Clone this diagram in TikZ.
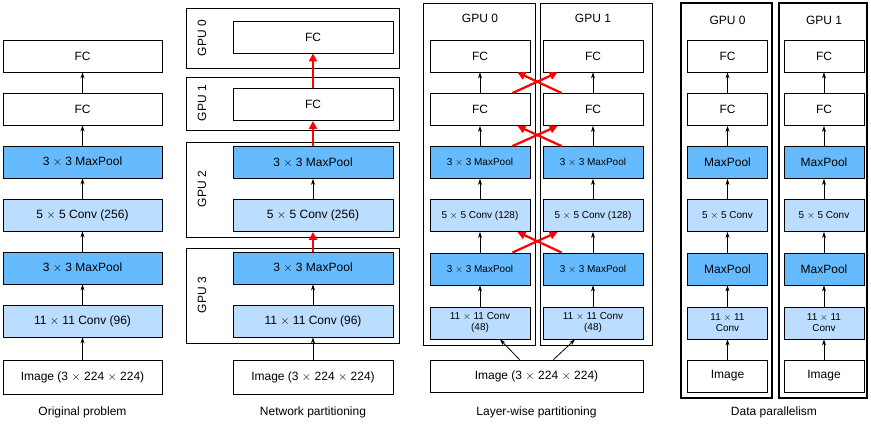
\documentclass[tikz,border=0pt]{standalone}
\usepackage{fontspec}
\setmainfont{Liberation Sans}
\usetikzlibrary{arrows.meta,calc}
\definecolor{pooldark}{HTML}{66BBFF}
\definecolor{convlight}{HTML}{BBDDFF}
\tikzset{
    layer/.style={draw,line width=0.9pt,minimum height=32pt,inner sep=1pt,align=center,font=\fontsize{12}{13}\selectfont},
    fc/.style={layer,fill=white},
    pool/.style={layer,fill=pooldark},
    conv/.style={layer,fill=convlight},
    small/.style={font=\fontsize{10}{11}\selectfont},
    frame/.style={draw,line width=0.9pt},
    up/.style={-{Stealth[length=6pt,width=4pt]},line width=0.8pt},
    redup/.style={-{Triangle[length=8pt,width=8pt]},red,line width=2.2pt},
    caption/.style={font=\fontsize{12}{13}\selectfont}
}
\begin{document}
\begin{tikzpicture}[x=1pt,y=-1pt]
    \useasboundingbox (0,0) rectangle (871,431);
    % original problem
    \begin{scope}[every node/.append style={minimum width=159pt}]
        \node[fc]   (a6) at (82.5,56)  {FC};
        \node[fc]   (a5) at (82.5,109) {FC};
        \node[pool] (a4) at (82.5,162) {3 $\times$ 3 MaxPool};
        \node[conv] (a3) at (82.5,215) {5 $\times$ 5 Conv (256)};
        \node[pool] (a2) at (82.5,268) {3 $\times$ 3 MaxPool};
        \node[conv] (a1) at (82.5,321) {11 $\times$ 11 Conv (96)};
        \node[fc,minimum height=34pt] (a0) at (82.5,377) {Image (3 $\times$ 224 $\times$ 224)};
    \end{scope}
    \foreach \i [count=\j from 1] in {0,...,5}
        \draw[up] (a\i) -- (a\j);
    \node[caption] (ca) at (82.5,412) {Original problem};

    % network partitioning
    \draw[frame] (186,8) rectangle (399,68);
    \draw[frame] (186,77) rectangle (399,130);
    \draw[frame] (186,142) rectangle (399,237);
    \draw[frame] (186,248) rectangle (399,343);
    \node[caption,rotate=90] (g0) at (202,38)  {GPU 0};
    \node[caption,rotate=90] (g1) at (202,103) {GPU 1};
    \node[caption,rotate=90] (g2) at (202,189) {GPU 2};
    \node[caption,rotate=90] (g3) at (202,295) {GPU 3};
    \begin{scope}[every node/.append style={minimum width=160pt}]
        \node[fc]   (b6) at (313,37)    {FC};
        \node[fc]   (b5) at (313,104.5) {FC};
        \node[pool] (b4) at (313,162.5) {3 $\times$ 3 MaxPool};
        \node[conv] (b3) at (313,215.5) {5 $\times$ 5 Conv (256)};
        \node[pool] (b2) at (313,268)   {3 $\times$ 3 MaxPool};
        \node[conv] (b1) at (313,321)   {11 $\times$ 11 Conv (96)};
        \node[fc,minimum height=34pt] (b0) at (313,377) {Image (3 $\times$ 224 $\times$ 224)};
    \end{scope}
    \draw[up] (b0) -- (b1);
    \draw[up] (b1) -- (b2);
    \draw[up] (b3) -- (b4);
    \draw[redup] (b2) -- (b3);
    \draw[redup] (b4) -- (b5);
    \draw[redup] (b5) -- (b6);
    \node[caption] (cb) at (313,412) {Network partitioning};

    % layer-wise partitioning
    \draw[frame] (423,3) rectangle (535,345);
    \draw[frame] (540,3) rectangle (652,345);
    \foreach \g/\x in {l/480,r/593}{
        \begin{scope}[every node/.append style={minimum width=100pt}]
            \node[fc]         (\g6) at (\x,56)  {FC};
            \node[fc]         (\g5) at (\x,109.5) {FC};
            \node[pool,small] (\g4) at (\x,162.5) {3 $\times$ 3 MaxPool};
            \node[conv,small] (\g3) at (\x,215.5) {5 $\times$ 5 Conv (128)};
            \node[pool,small] (\g2) at (\x,269) {3 $\times$ 3 MaxPool};
            \node[conv,small] (\g1) at (\x,323) {11 $\times$ 11 Conv\\(48)};
        \end{scope}
        \foreach \i [count=\j from 2] in {1,...,5}
            \draw[up] (\g\i) -- (\g\j);
    }
    \node[caption] (gl) at (480,18) {GPU 0};
    \node[caption] (gr) at (593,18) {GPU 1};
    \node[fc,minimum width=213pt] (c0) at (536.5,376) {Image (3 $\times$ 224 $\times$ 224)};
    \draw[up] ($(c0.north)+(-17,0)$) -- ($(l1.south)+(20,0)$);
    \draw[up] ($(c0.north)+(17,0)$) -- ($(r1.south)+(-18,0)$);
    \foreach \i/\j in {2/3,4/5,5/6}{
        \draw[redup] ($(l\i.north east)+(-18,0)$) -- ($(r\j.south west)+(15,0)$);
        \draw[redup] ($(r\i.north west)+(19,0)$) -- ($(l\j.south east)+(-13,0)$);
    }
    \node[caption] (cc) at (536.5,412) {Layer-wise partitioning};

    % data parallelism
    \draw[frame,line width=1.3pt] (681,3) rectangle (772,398);
    \draw[frame,line width=1.3pt] (779,3) rectangle (867,398);
    \foreach \g/\x in {p/727.5,q/824}{
        \begin{scope}[every node/.append style={minimum width=80pt}]
            \node[fc]         (\g6) at (\x,56)  {FC};
            \node[fc]         (\g5) at (\x,109.5) {FC};
            \node[pool]       (\g4) at (\x,162.5) {MaxPool};
            \node[conv,small] (\g3) at (\x,215.5) {5 $\times$ 5 Conv};
            \node[pool]       (\g2) at (\x,269) {MaxPool};
            \node[conv,small] (\g1) at (\x,323) {11 $\times$ 11\\Conv};
            \node[fc]         (\g0) at (\x,376) {Image};
        \end{scope}
        \foreach \i [count=\j from 1] in {0,...,5}
            \draw[up] (\g\i) -- (\g\j);
    }
    \node[caption] (gp) at (727.5,20) {GPU 0};
    \node[caption] (gq) at (824,20) {GPU 1};
    \node[caption] (cd) at (774,412) {Data parallelism};
\end{tikzpicture}
\end{document}
